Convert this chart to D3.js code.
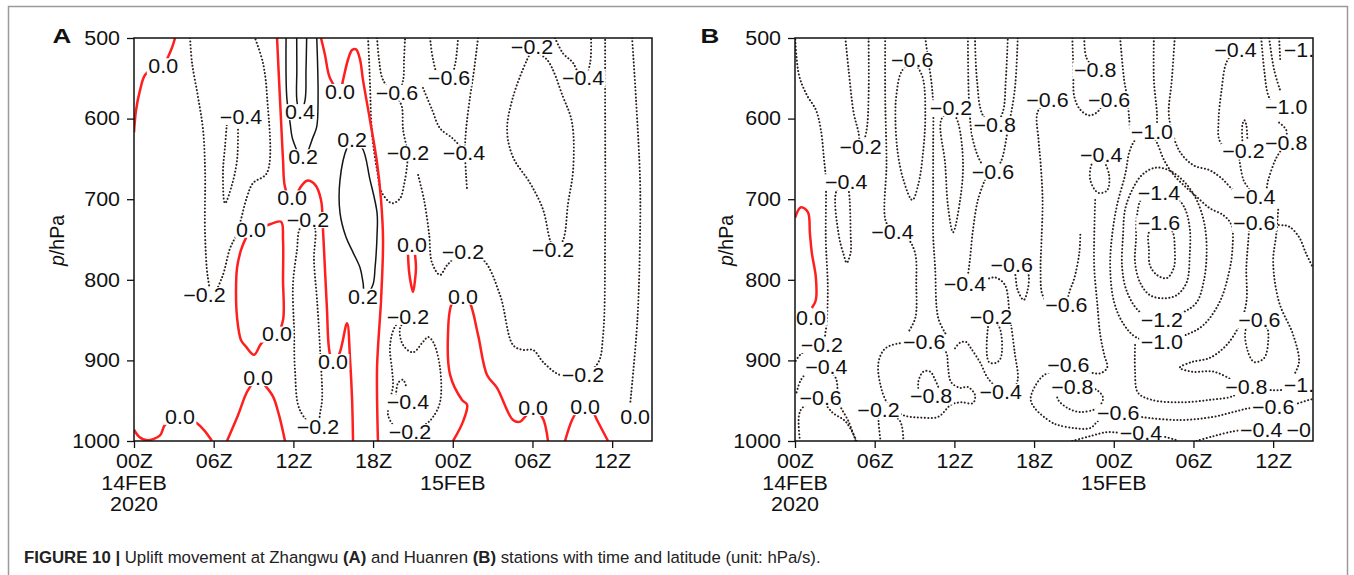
<!DOCTYPE html>
<html>
<head>
<meta charset="utf-8">
<script src="https://cdn.jsdelivr.net/npm/d3@7"></script>
<style>
  body { margin: 0; background: #fff; }
  text { font-family: "Liberation Sans", Arial, sans-serif; }
</style>
</head>
<body>
<svg id="chart" width="1354" height="575"></svg>
<script>
// Axis ticks (hours since 00Z 14 Feb 2020, pressure in hPa)
const hourTicks = [0, 6, 12, 18, 24, 30, 36];
const hourLabels = ['00Z', '06Z', '12Z', '18Z', '00Z', '06Z', '12Z'];
const dateLabels = [['14FEB', '2020'], [], [], [], ['15FEB'], [], []];
const pressureTicks = [500, 600, 700, 800, 900, 1000];

// Panel A (Zhangwu) contours, each a list of [hour, hPa]
const redA = [
  [[0,617],[0.15,590],[0.45,565],[0.83,546],[1.58,536],[2.2,533],[2.79,515],[3.09,500]],
  [[10.77,500],[10.92,552],[11.07,602],[11.22,651],[11.37,685],[11.9,705],[12.5,686],[13.03,677],[13.63,682],[14.08,701],[14.23,738],[14.38,788],[14.53,837],[14.68,885],[14.98,906],[15.5,890],[16.04,854],[16.27,900],[16.42,949],[16.49,1000]],
  [[8.81,738],[9.49,736],[10.24,731],[11.07,728],[11.22,751],[11.22,800],[11.22,850],[10.77,868],[9.64,878],[9.04,893],[8.43,883],[8.06,875],[7.76,847],[7.68,813],[7.76,785],[8.06,763],[8.43,748],[8.81,738]],
  [[7.0,1000],[7.83,968],[8.58,937],[9.34,922],[9.86,931],[10.47,945],[10.92,968],[11.37,1000]],
  [[0,986],[0.4,995],[1.0,999],[1.96,993],[2.33,980],[3.46,968],[4.74,978],[5.35,988],[5.87,1000]],
  [[20.63,769],[20.71,790],[20.86,806],[21.01,815],[21.16,800],[21.23,785],[21.16,769]],
  [[24.02,1000],[24.77,976],[25.08,955],[24.7,949],[23.8,918],[23.64,868],[23.95,829],[24.77,818],[25.3,829],[25.9,868],[26.58,918],[27.33,934],[28.54,974],[29.07,976],[29.44,970],[30.05,962],[30.72,970],[31.17,1000]],
  [[32.45,1000],[32.98,974],[33.43,962],[33.96,958],[34.49,962],[34.86,974],[35.69,1000]],
  [[14.08,500],[14.38,521],[14.76,550],[15.51,567],[15.74,552],[16.11,527],[16.42,515],[16.72,514],[17.02,527],[17.24,552],[17.77,602],[18.3,655],[18.6,701],[18.75,751],[18.6,825],[18.3,909],[18.37,1000]]
];
const solidA = [
  [[12.25,500],[12.26,540],[12.26,577],[12.5,595],[12.88,577],[12.95,540],[13.0,500]],
  [[11.45,500],[11.5,573],[11.75,605],[11.97,627],[12.73,650],[13.48,623],[13.76,610],[13.86,573],[13.76,500]],
  [[16.42,627],[16.04,636],[15.51,676],[15.51,717],[15.96,747],[16.49,766],[17.02,785],[17.24,803],[17.4,821],[17.99,806],[18.15,785],[18.3,744],[18.3,717],[17.77,676],[17.17,636],[16.42,627]]
];
const dottedA = [
  [[6.98,608],[6.85,635],[6.7,667],[6.85,705],[7.38,682],[7.76,651],[7.83,610]],
  [[4.22,500],[4.37,531],[4.82,573],[5.2,614],[5.35,664],[5.35,744],[5.57,798],[5.9,819],[6.63,797],[7.23,761],[7.76,742],[8.51,697],[8.96,680],[10.02,667],[10.02,573],[9.71,531],[9.11,500]],
  [[13.25,726],[12.5,736],[12.27,763],[11.97,806],[12.05,862],[12.12,912],[12.5,962],[13.78,985],[14.01,965],[14.16,949],[14.01,887],[13.78,825],[13.55,775],[13.63,736],[13.25,726]],
  [[18.3,500],[18.45,527],[18.75,552],[19.8,572],[20.26,552],[20.33,527],[20.41,500]],
  [[17.62,500],[17.7,527],[17.77,558],[17.92,618],[18.3,664],[18.67,692],[19.43,705],[20.03,699],[20.33,682],[20.56,658],[20.6,643],[20.26,614],[20.18,586],[19.95,577]],
  [[22.29,500],[22.52,527],[22.89,546],[23.72,555],[24.17,533],[24.32,515],[24.4,500]],
  [[25.9,500],[25.6,540],[25.3,573],[25.0,614],[24.92,639],[25.0,670],[25.08,689]],
  [[21.76,562],[22.44,589],[23.04,612],[23.95,624],[24.55,634]],
  [[21.39,670],[21.84,701],[22.21,742],[22.44,779],[23.04,794],[23.57,782],[24.77,766],[26.28,775],[27.56,819],[28.54,881],[29.29,887],[30.05,887],[30.8,902],[32.08,918],[33.8,918],[34.94,903],[35.32,868],[35.47,744],[35.47,577],[35.47,500]],
  [[29.97,515],[29.59,527],[28.54,573],[28.09,614],[28.54,648],[29.82,680],[30.8,713],[31.33,751],[31.7,763],[32.3,751],[32.68,705],[33.06,664],[32.98,605],[32.3,573],[31.1,527],[29.97,515]],
  [[31.7,500],[32.3,519],[33.06,531],[33.81,555],[34.34,531],[34.41,500]],
  [[37.5,500],[37.8,577],[38.1,676],[38.1,744],[37.9,850],[37.35,955]],
  [[20.63,846],[20.03,860],[20.26,881],[21.01,890],[21.76,877],[22.14,871],[22.52,877],[23.04,909],[23.04,952],[22.52,970],[22.06,978],[20.78,989],[19.73,984],[19.13,968],[19.2,955],[19.5,931],[19.43,912],[19.28,881],[19.73,856],[20.63,846]],
  [[19.73,943],[19.88,928],[20.26,924],[20.48,932]]
];
const labelsA = [
  [2.2,535,'0.0'],[11.9,699,'0.0'],[14.98,902,'0.0'],[8.81,738,'0.0'],[10.77,868,'0.0'],[9.34,922,'0.0'],
  [3.46,970,'0.0'],[20.93,757,'0.0'],[24.77,821,'0.0'],[30.05,959,'0.0'],[33.96,958,'0.0'],[37.73,970,'0.0'],
  [15.51,567,'0.0'],[12.5,592,'0.4'],[12.73,648,'0.2'],[16.42,627,'0.2'],[17.24,821,'0.2'],
  [8.06,598,'−0.4'],[5.3,819,'−0.2'],[13.1,726,'−0.2'],[13.85,983,'−0.2'],[19.8,568,'−0.6'],
  [20.63,643,'−0.2'],[23.72,550,'−0.6'],[24.85,643,'−0.4'],[24.77,766,'−0.2'],[33.8,918,'−0.2'],
  [29.97,512,'−0.2'],[31.55,763,'−0.2'],[33.81,550,'−0.4'],[20.63,846,'−0.2'],[20.78,989,'−0.2'],
  [20.63,952,'−0.4']
];

// Panel B (Huanren) contours
const redB = [
  [[0,723],[0.45,710],[0.97,716],[1.12,742],[1.27,767],[1.57,797],[1.57,825],[1.27,835]]
];
const solidB = [];
const dottedB = [
  [[0.02,502],[0.3,546],[0.9,571],[1.57,589],[1.95,614],[2.17,648],[2.32,676],[2.32,751],[2.47,813],[2.32,862],[2.02,881],[0.52,891],[0,902]],
  [[3.79,500],[4.04,540],[4.42,593],[4.79,618],[4.94,640],[5.39,614],[5.54,573],[5.54,500]],
  [[3.86,681],[3.14,689],[3.29,744],[3.67,769],[3.89,779],[4.19,766],[4.19,744],[4.04,689],[3.86,681]],
  [[6.79,500],[6.79,573],[6.89,655],[6.81,726],[7.34,741]],
  [[7.34,741],[8.38,747],[9.03,766],[9.13,806],[9.06,847],[8.53,865]],
  [[9.73,878],[8.16,878],[6.81,885],[6.29,902],[6.44,931],[7.04,955],[8.16,968],[9.51,971],[10.78,970],[11.75,955],[12.5,952],[13.4,953],[13.55,943],[13.02,933],[12.43,934],[11.75,927],[11.53,909],[11.38,890],[10.78,881],[9.73,878]],
  [[12.05,885],[12.43,878],[12.87,877],[13.25,885],[13.92,902],[14.52,922],[15.49,939]],
  [[9.36,943],[9.28,927],[9.66,914],[10.18,914],[10.55,924],[10.93,939]],
  [[8.83,527],[8.01,542],[7.63,571],[7.56,598],[7.71,639],[8.16,676],[8.83,701],[9.28,682],[9.66,639],[9.81,596],[9.66,552],[9.28,537],[8.83,527]],
  [[9.81,500],[10.03,527],[10.25,552],[10.4,581],[10.4,639],[10.4,701],[10.4,744],[10.55,785],[10.78,847],[11.38,868]],
  [[11.75,587],[11.0,602],[11.3,655],[11.53,710],[11.9,741],[12.43,701],[12.65,655],[12.28,605],[11.75,587]],
  [[13.02,500],[13.1,577],[13.4,627],[14.15,658],[14.9,666],[15.49,654],[16.02,614],[16.54,565],[16.77,500]],
  [[13.55,500],[13.7,552],[14.15,596],[15.04,608],[15.64,592],[15.87,552],[16.02,500]],
  [[14.3,676],[13.77,701],[13.4,738],[13.17,775],[13.02,794]],
  [[14.37,800],[15.04,797],[15.79,806],[16.17,844],[16.54,890],[16.77,924],[16.39,939]],
  [[14.75,846],[14.52,860],[14.6,902],[15.12,903],[15.49,897],[15.42,860],[14.75,846]],
  [[16.32,782],[16.54,790],[16.77,813],[17.22,825],[17.51,813],[17.59,794],[17.3,785]],
  [[19.01,577],[18.26,592],[18.34,627],[18.49,655],[18.64,701],[18.56,751],[18.49,788],[18.64,819],[19.24,831],[20.43,831]],
  [[20.88,500],[20.96,540],[21.03,573],[21.48,589],[22.16,596],[22.75,592],[23.13,584],[23.65,577]],
  [[21.78,500],[21.93,524],[22.6,540]],
  [[24.48,500],[24.78,552],[25.0,573],[25.15,598],[25.22,614]],
  [[27.02,500],[27.02,552],[27.25,593],[27.25,608]],
  [[28.59,500],[28.37,552],[28.14,593],[28.37,614],[28.97,641],[30.01,658],[31.21,664],[32.11,674],[33.01,689],[33.68,696]],
  [[27.4,730],[26.65,741],[26.65,763],[26.72,782],[27.25,794],[27.99,798],[28.52,785],[28.59,761],[28.44,741],[27.99,733],[27.4,730]],
  [[27.4,692],[26.12,699],[25.75,720],[25.67,751],[25.6,778],[25.97,803],[26.72,819],[27.77,823],[28.74,819],[29.49,803],[29.72,769],[29.72,736],[29.34,711],[28.59,696],[27.4,692]],
  [[27.62,850],[29.27,840],[30.24,828],[30.76,803],[30.99,769],[30.84,732],[30.24,701],[29.34,679],[28.14,664],[27.1,661],[26.12,670],[25.37,689],[24.85,713],[24.7,744],[24.63,785],[25.0,815],[25.97,840],[27.62,850]],
  [[27.62,877],[29.49,868],[30.76,856],[31.96,828],[32.63,794],[32.93,763],[32.86,732],[32.26,720],[31.21,711],[30.24,697],[29.49,686],[28.52,670],[27.77,651],[27.25,630],[26.72,617],[25.75,624],[25.22,639],[24.85,670],[24.25,707],[23.88,744],[23.73,785],[24.03,828],[24.78,856],[25.75,872],[27.62,877]],
  [[34.2,735],[34.13,751],[33.98,785],[33.98,828],[33.46,856],[32.49,881],[31.21,897],[29.87,902],[28.97,909],[29.87,914],[31.51,914],[32.86,924],[33.46,932]],
  [[25.6,881],[25.6,912],[25.82,940],[26.87,949],[28.97,952],[31.21,949],[33.01,944],[33.46,937]],
  [[34.96,850],[33.98,860],[34.06,887],[34.58,902],[35.33,897],[35.63,875],[35.55,860],[34.96,850]],
  [[36.38,713],[36.23,744],[36.0,778],[36.45,828],[37.5,868],[37.95,902],[37.57,918]],
  [[34.58,730],[36.45,732],[37.2,734],[37.95,747],[38.47,767],[39,785]],
  [[33.16,515],[32.49,530],[32.11,565],[31.89,602],[31.96,627],[32.63,639],[33.76,641]],
  [[33.68,627],[33.68,608],[33.83,602],[33.98,608],[34.06,627]],
  [[33.46,651],[33.76,676],[34.13,686],[34.58,697]],
  [[35.1,500],[35.33,540],[35.63,571],[36.08,583],[36.98,586]],
  [[35.7,500],[36.08,540],[36.53,565]],
  [[36.45,500],[36.53,527]],
  [[36.45,605],[36.98,614],[36.98,630]],
  [[36.98,630],[36.23,649],[35.63,676],[35.33,695],[34.58,697]],
  [[2.32,909],[1.05,914],[0.45,924],[0.07,943]],
  [[2.32,909],[3.07,922],[3.29,952],[4.04,976],[4.57,1000]],
  [[2.02,947],[0.6,958],[0.3,968],[0.37,1000]],
  [[2.02,947],[2.77,964],[3.82,976],[4.64,1000]],
  [[6.29,962],[6.29,976],[6.44,1000]],
  [[6.29,962],[7.86,974],[8.16,1000]],
  [[20.58,906],[19.24,914],[18.49,922],[17.74,947],[18.04,959],[19.24,976],[19.76,980],[21.03,984],[22.23,984],[22.75,976],[23.35,968],[24.33,965]],
  [[20.88,933],[19.91,937],[19.76,947],[20.51,959],[21.48,964],[22.75,959],[23.2,947],[22.75,937],[22.0,933],[20.88,933]],
  [[22.6,701],[22.53,744],[22.53,785],[22.75,828],[22.98,868],[23.28,893],[23.5,909],[22.98,916],[22.0,914],[20.58,906]],
  [[21.48,744],[21.41,766],[21.03,798],[20.66,815],[20.43,831]],
  [[23.05,645],[22.38,655],[22.23,676],[22.83,692],[23.5,689],[23.65,670],[23.05,645]],
  [[20.88,1000],[22.23,994],[23.5,989],[24.63,990],[26.05,990],[27.62,994],[28.74,999]],
  [[24.33,965],[25.97,970],[28.97,974],[31.51,970],[33.01,964],[34.36,959],[36.0,959],[37.5,955],[38.7,949],[39,948]],
  [[30.24,1000],[31.51,994],[33.01,988],[33.98,986],[35.1,986],[36.38,986],[38.47,986]],
  [[33.98,933],[35.33,936],[36.45,937],[38.4,931]]
];
const labelsB = [
  [1.2,847,'0.0'],[2.02,881,'−0.2'],[2.36,909,'−0.4'],[1.93,947,'−0.6'],[6.29,962,'−0.2'],
  [4.94,635,'−0.2'],[3.86,679,'−0.4'],[8.83,527,'−0.6'],[7.34,741,'−0.4'],[11.75,587,'−0.2'],
  [15.04,608,'−0.8'],[14.9,666,'−0.6'],[19.01,577,'−0.6'],[22.6,540,'−0.8'],[23.65,577,'−0.6'],
  [26.87,617,'−1.0'],[23.05,645,'−0.4'],[27.4,692,'−1.4'],[27.4,730,'−1.6'],[27.62,850,'−1.2'],
  [27.62,877,'−1.0'],[12.8,806,'−0.4'],[16.32,782,'−0.6'],[14.75,846,'−0.2'],[9.73,878,'−0.6'],
  [10.25,945,'−0.8'],[15.49,939,'−0.4'],[20.43,831,'−0.6'],[20.58,906,'−0.6'],[20.88,933,'−0.8'],
  [24.33,965,'−0.6'],[26.05,990,'−0.4'],[33.16,515,'−0.4'],[38.4,515,'−1.0'],[36.98,586,'−1.0'],
  [36.98,630,'−0.8'],[33.76,641,'−0.2'],[34.58,697,'−0.4'],[34.58,730,'−0.6'],[34.96,850,'−0.6'],
  [33.98,933,'−0.8'],[38.4,931,'−1.0'],[36.0,958,'−0.6'],[35.1,987,'−0.4'],[38.6,987,'−0.2']
];

const svg = d3.select('#chart');
const width = +svg.attr('width');
const height = +svg.attr('height');
const fontSize = 19.5;
const stretchK = 1.1; // figure lettering is a bit wider than plain Arial

// stretch text horizontally to match the wide lettering of the figure
const stretch = (sel, k = stretchK) => sel.each(function() {
  const w = this.getComputedTextLength();
  d3.select(this).attr('textLength', w * k).attr('lengthAdjust', 'spacingAndGlyphs');
});

svg.append('rect').attr('width', width).attr('height', height).attr('fill', '#fff');
// light frame round the figure
svg.append('rect')
  .attr('x', 8.5).attr('y', 6.5).attr('width', 1339).attr('height', 640)
  .attr('fill', 'none').attr('stroke', '#9a9a9a').attr('stroke-width', 1.5);

const panels = [
  { id: 'A', left: 134, red: redA, solid: solidA, dotted: dottedA, labels: labelsA, titleX: 62, yLabX: 64 },
  { id: 'B', left: 795, red: redB, solid: solidB, dotted: dottedB, labels: labelsB, titleX: 710, yLabX: 733 }
];
const plotTop = 38, plotBottom = 441, plotW = 518;

const drawPanel = p => {
  const x = d3.scaleLinear().domain([0, 39]).range([p.left, p.left + plotW]);
  const y = d3.scaleLinear().domain([500, 1000]).range([plotTop, plotBottom]);
  const line = d3.line().x(d => x(d[0])).y(d => y(d[1])).curve(d3.curveCatmullRom.alpha(0.5));

  const clipId = 'clip' + p.id;
  svg.append('clipPath').attr('id', clipId).append('rect')
    .attr('x', p.left).attr('y', plotTop).attr('width', plotW).attr('height', plotBottom - plotTop);
  const g = svg.append('g').attr('clip-path', `url(#${clipId})`);

  g.selectAll('.dot').data(p.dotted).enter().append('path')
    .attr('d', line).attr('fill', 'none')
    .attr('stroke', '#2b201b').attr('stroke-width', 2)
    .attr('stroke-linecap', 'round').attr('stroke-dasharray', '0.1 3.4');
  g.selectAll('.solid').data(p.solid).enter().append('path')
    .attr('d', line).attr('fill', 'none')
    .attr('stroke', '#151515').attr('stroke-width', 1.5);
  g.selectAll('.red').data(p.red).enter().append('path')
    .attr('d', line).attr('fill', 'none')
    .attr('stroke', '#ff1f1f').attr('stroke-width', 2.5);

  // contour labels with a white knock-out behind
  const lab = g.selectAll('.lab').data(p.labels).enter().append('g');
  const lt = lab.append('text')
    .attr('x', d => x(d[0])).attr('y', d => y(d[1])).attr('dy', '0.35em')
    .attr('text-anchor', 'middle').attr('font-size', fontSize).attr('fill', '#111')
    .text(d => d[2]);
  lt.each(function(d) {
    const w = this.getComputedTextLength() * stretchK;
    d3.select(this.parentNode).insert('rect', 'text')
      .attr('x', x(d[0]) - w / 2 - 1.5).attr('y', y(d[1]) - 8)
      .attr('width', w + 3).attr('height', 16).attr('fill', '#fff');
  });
  stretch(lt);

  // frame of the plot
  svg.append('rect').attr('x', p.left).attr('y', plotTop).attr('width', plotW).attr('height', plotBottom - plotTop)
    .attr('fill', 'none').attr('stroke', '#111').attr('stroke-width', 1.5);

  const yAxisG = svg.append('g').attr('transform', `translate(${p.left},0)`)
    .call(d3.axisLeft(y).tickValues(pressureTicks).tickFormat(d3.format('d')).tickSize(7).tickPadding(7));
  yAxisG.select('.domain').remove();
  yAxisG.selectAll('line').attr('stroke', '#111').attr('stroke-width', 1.3);
  yAxisG.selectAll('text').attr('font-size', fontSize).attr('fill', '#111')
    .attr('font-family', '"Liberation Sans", Arial, sans-serif').call(stretch);

  const xAxisG = svg.append('g').attr('transform', `translate(0,${plotBottom})`)
    .call(d3.axisBottom(x).tickValues(hourTicks).tickFormat((d, i) => hourLabels[i]).tickSize(7).tickPadding(6));
  xAxisG.select('.domain').remove();
  xAxisG.selectAll('line').attr('stroke', '#111').attr('stroke-width', 1.3);
  xAxisG.selectAll('text').attr('font-size', fontSize).attr('fill', '#111')
    .attr('font-family', '"Liberation Sans", Arial, sans-serif').call(stretch);

  // date lines under the hour labels
  hourTicks.forEach((h, i) => {
    dateLabels[i].forEach((s, j) => {
      svg.append('text').attr('x', x(h)).attr('y', plotBottom + 49 + j * 21)
        .attr('text-anchor', 'middle').attr('font-size', fontSize).attr('fill', '#111')
        .text(s).call(stretch);
    });
  });

  // y axis title: p/hPa
  const yt = svg.append('text')
    .attr('transform', `translate(${p.yLabX},${(plotTop + plotBottom) / 2 + 1}) rotate(-90)`)
    .attr('text-anchor', 'middle').attr('font-size', fontSize).attr('fill', '#111');
  yt.append('tspan').attr('font-style', 'italic').text('p');
  yt.append('tspan').text('/hPa');

  svg.append('text').attr('x', p.titleX).attr('y', 43).attr('text-anchor', 'middle')
    .attr('font-size', 20).attr('font-weight', 'bold').attr('fill', '#111').text(p.id).call(stretch, 1.3);
};

panels.forEach(drawPanel);

// caption
const cap = svg.append('text').attr('x', 24).attr('y', 563).attr('font-size', 16.8).attr('fill', '#222');
cap.append('tspan').attr('font-weight', 'bold').text('FIGURE 10 | ');
cap.append('tspan').text('Uplift movement at Zhangwu ');
cap.append('tspan').attr('font-weight', 'bold').text('(A)');
cap.append('tspan').text(' and Huanren ');
cap.append('tspan').attr('font-weight', 'bold').text('(B)');
cap.append('tspan').text(' stations with time and latitude (unit: hPa/s).');
</script>
</body>
</html>
